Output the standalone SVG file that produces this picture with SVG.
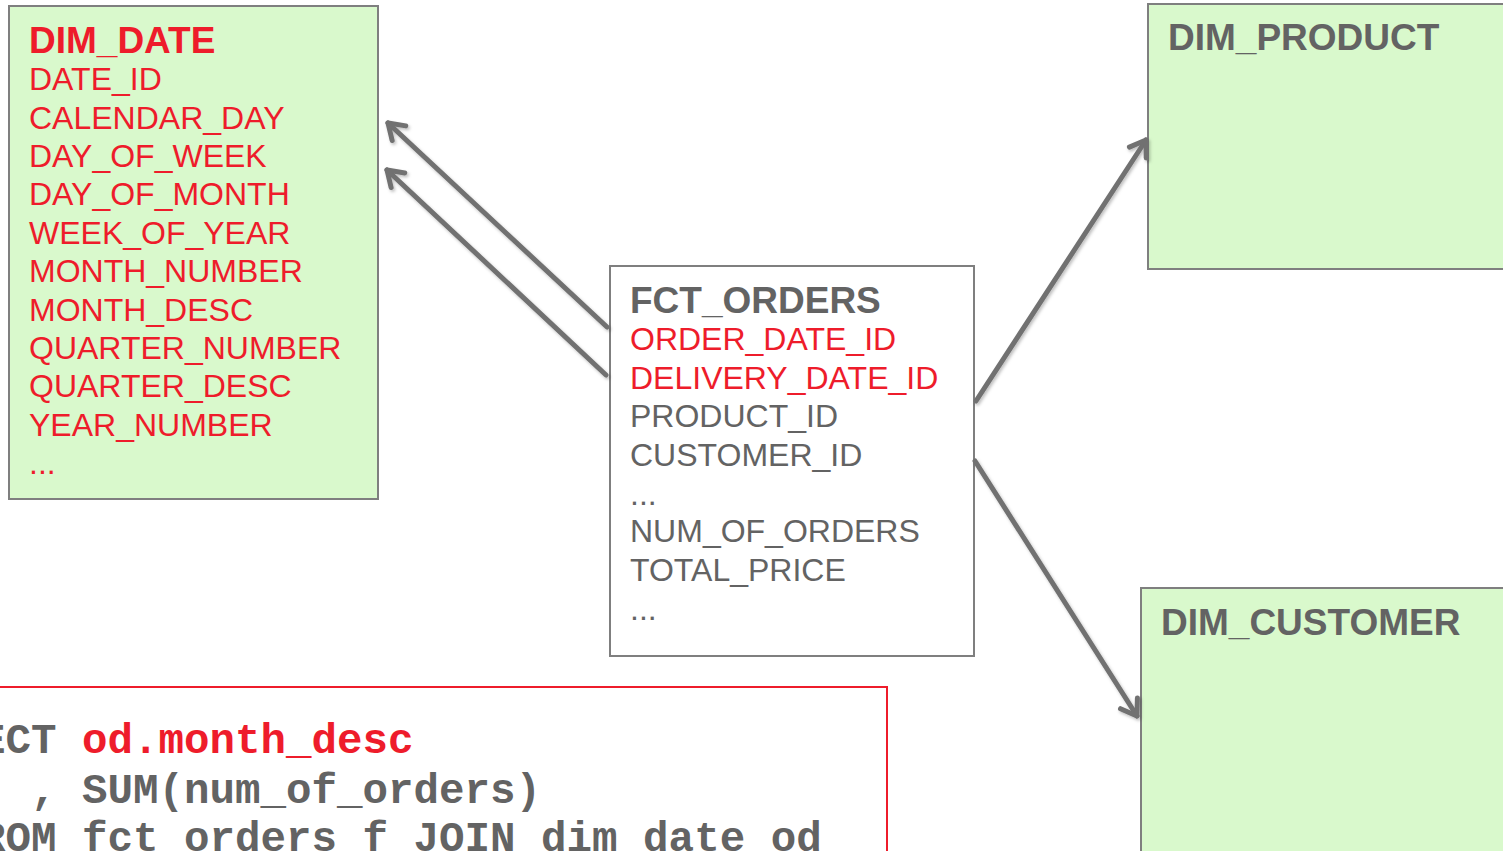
<svg xmlns="http://www.w3.org/2000/svg" width="1503" height="851" viewBox="0 0 1503 851">
<style>
.dim{fill:#d9f9cc;stroke:#7f7f7f;stroke-width:2}
.fct{fill:#ffffff;stroke:#7f7f7f;stroke-width:2}
.t{font-family:"Liberation Sans",Arial,sans-serif;font-size:32px}
.h{font-family:"Liberation Sans",Arial,sans-serif;font-size:37px;font-weight:bold}
.red{fill:#ee1c2b}
.grey{fill:#636363}
.code{font-family:"Liberation Mono","Courier New",monospace;font-size:42.5px;font-weight:bold;fill:#636363}
.conn{stroke:#717171;stroke-width:5;fill:none;stroke-linecap:round;marker-end:url(#arr);filter:url(#sh)}
</style>
<defs>
<marker id="arr" markerUnits="userSpaceOnUse" markerWidth="40" markerHeight="40" viewBox="-20 -20 40 40" refX="0" refY="0" orient="auto">
<path d="M -15 -10 L 0 0 L -15 10" fill="none" stroke="#717171" stroke-width="5" stroke-linecap="round" stroke-linejoin="round"/>
</marker>
<filter id="sh" x="-20%" y="-20%" width="140%" height="140%">
<feDropShadow dx="1.5" dy="2" stdDeviation="1.5" flood-color="#000" flood-opacity="0.25"/>
</filter>
</defs>
<rect width="1503" height="851" fill="#ffffff"/>

<g id="dim_date">
<rect class="dim" x="9" y="6" width="369" height="493"/>
<text class="h red" x="29" y="53" font-size="36.6">DIM_DATE</text>
<text class="t red" x="29" y="90">DATE_ID</text>
<text class="t red" x="29" y="129">CALENDAR_DAY</text>
<text class="t red" x="29" y="167">DAY_OF_WEEK</text>
<text class="t red" x="29" y="205">DAY_OF_MONTH</text>
<text class="t red" x="29" y="244">WEEK_OF_YEAR</text>
<text class="t red" x="29" y="282">MONTH_NUMBER</text>
<text class="t red" x="29" y="321">MONTH_DESC</text>
<text class="t red" x="29" y="359">QUARTER_NUMBER</text>
<text class="t red" x="29" y="397">QUARTER_DESC</text>
<text class="t red" x="29" y="436">YEAR_NUMBER</text>
<text class="t red" x="29" y="474">...</text>
</g>

<g id="fct_orders">
<rect class="fct" x="610" y="266" width="364" height="390"/>
<text class="h grey" x="630" y="313">FCT_ORDERS</text>
<text class="t red" x="630" y="350" font-size="31.4">ORDER_DATE_ID</text>
<text class="t red" x="630" y="389" font-size="31.4">DELIVERY_DATE_ID</text>
<text class="t grey" x="630" y="427" font-size="31.4">PRODUCT_ID</text>
<text class="t grey" x="630" y="466" font-size="31.4">CUSTOMER_ID</text>
<text class="t grey" x="630" y="505" font-size="31.4">...</text>
<text class="t grey" x="630" y="542" font-size="31.4">NUM_OF_ORDERS</text>
<text class="t grey" x="630" y="581" font-size="31.4">TOTAL_PRICE</text>
<text class="t grey" x="630" y="620" font-size="31.4">...</text>
</g>

<g id="dim_product">
<rect class="dim" x="1148" y="4" width="370" height="265"/>
<text class="h grey" x="1168" y="50">DIM_PRODUCT</text>
</g>

<g id="dim_customer">
<rect class="dim" x="1141" y="588" width="380" height="300"/>
<text class="h grey" x="1161" y="635">DIM_CUSTOMER</text>
</g>

<g id="sql_query">
<rect x="-5" y="687" width="892" height="200" fill="#ffffff" stroke="#ee1c2b" stroke-width="2"/>
<text class="code" xml:space="preserve" x="-96.5" y="753">SELECT <tspan fill="#ee1c2b">od.month_desc</tspan></text>
<text class="code" xml:space="preserve" x="-96.5" y="803">     , SUM(num_of_orders)</text>
<text class="code" xml:space="preserve" x="-96.5" y="851">  FROM fct_orders f JOIN dim_date od</text>
</g>

<g id="connectors">
<path class="conn" d="M 607 327 L 388 123"/>
<path class="conn" d="M 606 375 L 387 170"/>
<path class="conn" d="M 976 401 L 1146 140"/>
<path class="conn" d="M 975 461 L 1137 716"/>
</g>
</svg>
